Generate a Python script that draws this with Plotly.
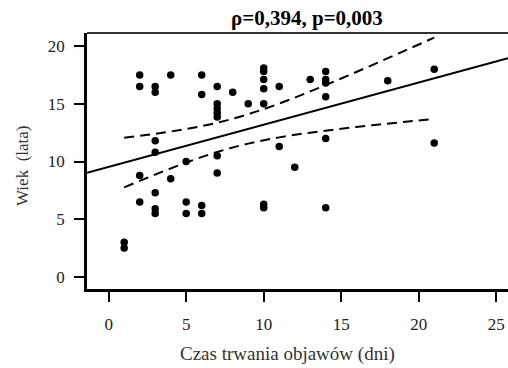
import plotly.graph_objects as go

# Data
duration_days = [1, 1, 2, 2, 2, 2, 3, 3, 3, 3, 3, 3, 3, 4, 4, 5, 5, 5, 6, 6, 6, 6,
                 7, 7, 7, 7, 7, 7, 7, 8, 9, 10, 10, 10, 10, 10, 10, 10, 11, 11, 12,
                 13, 14, 14, 14, 14, 14, 14, 18, 21, 21]
age_years = [3.0, 2.5, 17.5, 16.5, 8.8, 6.5, 16.5, 16.0, 11.8, 10.8, 7.3, 5.9, 5.5,
             17.5, 8.5, 10.0, 6.5, 5.5, 17.5, 15.8, 6.2, 5.5,
             16.5, 15.0, 14.6, 14.2, 13.85, 10.5, 9.0, 16.0, 15.0,
             18.1, 17.8, 17.1, 16.3, 15.0, 6.3, 6.0, 16.5, 11.3, 9.5,
             17.1, 17.8, 17.1, 16.8, 15.6, 12.0, 6.0, 17.0, 18.0, 11.6]

fit_intercept = 9.54
fit_slope = 0.365

ci_x = [1, 3, 5, 7, 9, 11, 13, 15, 17, 19, 21]
ci_upper = [12.06, 12.40, 12.82, 13.36, 14.10, 15.02, 16.07, 17.19, 18.35, 19.54, 20.73]
ci_lower = [7.76, 8.87, 9.91, 10.83, 11.55, 12.09, 12.50, 12.84, 13.14, 13.42, 13.69]

x_ticks = [0, 5, 10, 15, 20, 25]
y_ticks = [0, 5, 10, 15, 20]

title_text = "ρ=0,394, p=0,003"
x_title = "Czas trwania objawów (dni)"
y_title = "Wiek  (lata)"

x_range = [-1.4, 25.76]
y_range = [-1.04, 21.13]

FONT = "Liberation Serif, Times New Roman, serif"

fig = go.Figure()

fig.add_trace(go.Scatter(
    x=x_range, y=[fit_intercept + fit_slope * v for v in x_range],
    mode="lines", line=dict(color="black", width=2), hoverinfo="skip"))

for band in (ci_upper, ci_lower):
    fig.add_trace(go.Scatter(
        x=ci_x, y=band, mode="lines", line_shape="spline",
        line=dict(color="black", width=2, dash="10px,6px"), hoverinfo="skip"))

fig.add_trace(go.Scatter(
    x=duration_days, y=age_years, mode="markers",
    marker=dict(color="black", size=7.5, line=dict(width=0))))

axis_common = dict(
    showgrid=False, zeroline=False, showline=True, linecolor="black", linewidth=2.5,
    ticks="outside", ticklen=10, tickwidth=2, tickcolor="black",
    tickfont=dict(family=FONT, size=17, color="#222"),
)

fig.update_xaxes(range=x_range, tickvals=x_ticks, ticklabelstandoff=8, **axis_common)
fig.update_yaxes(range=y_range, tickvals=y_ticks, ticklabelstandoff=6, **axis_common)

fig.update_layout(
    width=508, height=368,
    margin=dict(l=87, r=0, t=33, b=79),
    paper_bgcolor="white", plot_bgcolor="white",
    showlegend=False,
    shapes=[dict(type="line", xref="paper", yref="paper", x0=0, x1=1, y0=1, y1=1,
                 line=dict(color="#333", width=2))],
    annotations=[
        dict(text="<b>" + title_text + "</b>", xref="paper", yref="paper",
             x=(307 - 87) / 421, y=1, yshift=15, showarrow=False,
             font=dict(family=FONT, size=21, color="black"), xanchor="center", yanchor="middle"),
        dict(text=x_title, xref="paper", yref="paper",
             x=(287 - 87) / 421, y=0, yshift=-(354 - 289), showarrow=False,
             font=dict(family=FONT, size=19, color="#333"), xanchor="center", yanchor="middle"),
        dict(text=y_title, xref="paper", yref="paper", textangle=-90,
             x=0, xshift=-(87 - 22), y=(289 - 166) / 256, showarrow=False,
             font=dict(family=FONT, size=17, color="#333"), xanchor="center", yanchor="middle"),
    ],
)

fig.write_html("out.html")
